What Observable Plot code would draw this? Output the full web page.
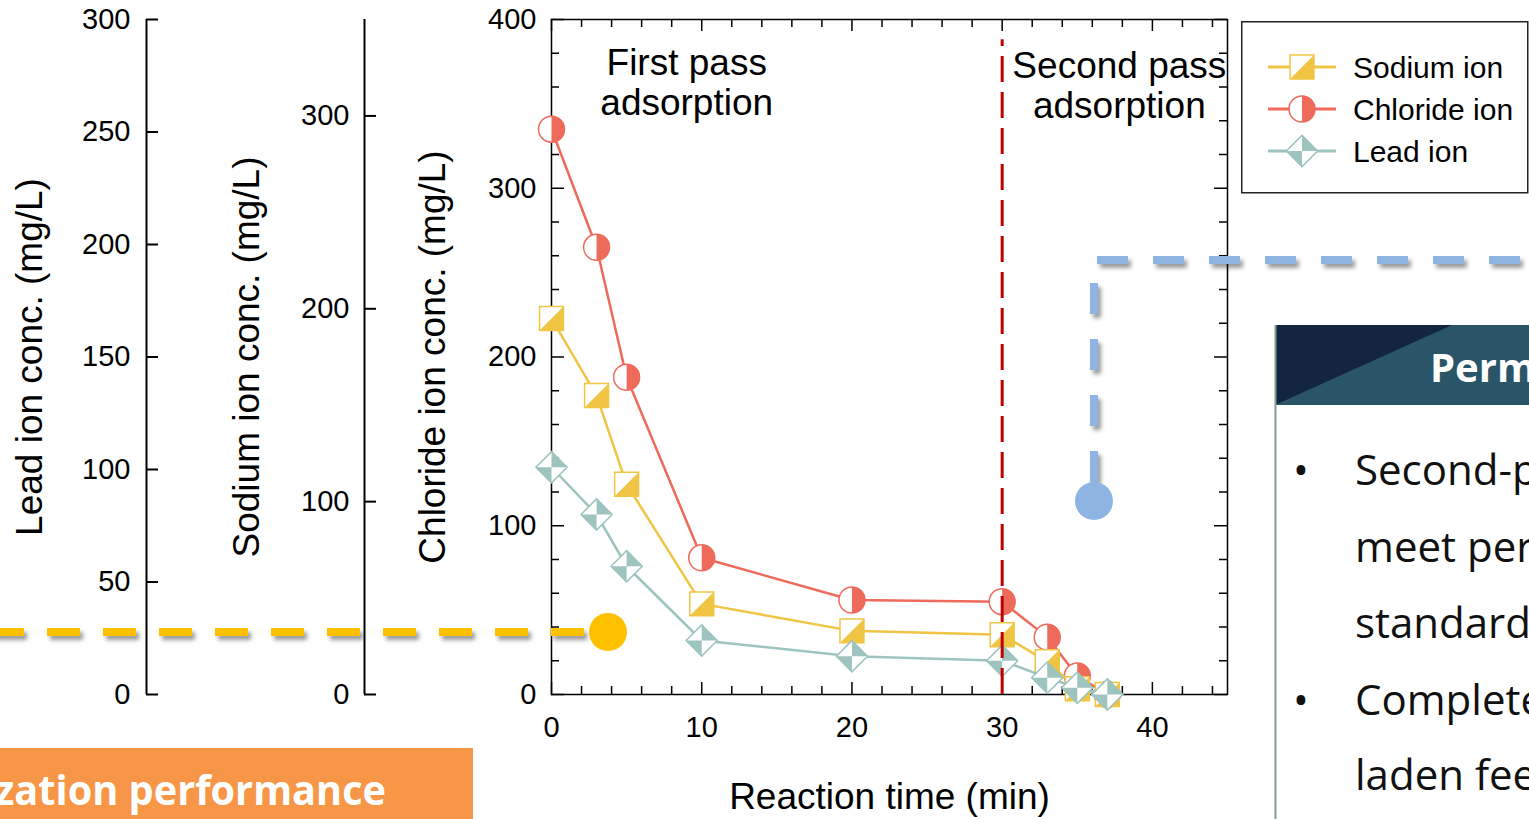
<!DOCTYPE html>
<html><head><meta charset="utf-8">
<script src="https://cdn.jsdelivr.net/npm/d3@7"></script>
<script src="https://cdn.jsdelivr.net/npm/@observablehq/plot@0.6"></script>
<style>
html,body{margin:0;padding:0;background:#fff;overflow:hidden}
#wrap{position:relative;width:1529px;height:819px;overflow:hidden;background:#fff}
#wrap svg{position:absolute;left:0;top:0}
</style></head><body><div id="wrap"></div>
<script>
// ---- data ----
const time = [0, 3, 5, 10, 20, 30, 33, 35, 37];
const chloride = [335, 265, 188, 81, 56, 55, 34, 11, 0];
const sodium = [195, 155, 109, 47, 33, 31, 17, 3, 0];
const lead = [101, 80, 57, 24, 17, 15, 7.5, 3, 0];
const chlorideTicks = [0, 100, 200, 300, 400];
const sodiumTicks = [0, 100, 200, 300];
const leadTicks = [0, 50, 100, 150, 200, 250, 300];
const timeTicks = [0, 10, 20, 30, 40];
const chlorideMax = 400, sodiumMax = 350, leadMax = 300, timeMax = 45;
const passBoundary = [30];
const annotations = [
  {x: 9, y: 363, text: "First pass\nadsorption"},
  {x: 37.8, y: 361, text: "Second pass\nadsorption"}
];
const legendOrder = ["Sodium ion", "Chloride ion", "Lead ion"];
const colors = {"Sodium ion": "#F0C544", "Chloride ion": "#EE6A5B", "Lead ion": "#9DC4BE"};

// ---- symbols ----
const shapes = {
  "Sodium ion": {
    outline: (c, r) => { const a = r * 0.92; c.rect(-a, -a, 2 * a, 2 * a); },
    half: (c, r) => { const a = r * 0.92; c.moveTo(-a, a); c.lineTo(a, -a); c.lineTo(a, a); c.closePath(); }
  },
  "Chloride ion": {
    outline: (c, r) => { c.moveTo(r, 0); c.arc(0, 0, r, 0, 2 * Math.PI); },
    half: (c, r) => { c.moveTo(0, -r); c.arc(0, 0, r, -Math.PI / 2, Math.PI / 2); c.closePath(); }
  },
  "Lead ion": {
    outline: (c, r) => { const d = r * 1.2; c.moveTo(0, -d); c.lineTo(d, 0); c.lineTo(0, d); c.lineTo(-d, 0); c.closePath(); },
    half: (c, r) => { const d = r * 1.2; c.moveTo(0, -d); c.lineTo(d, 0); c.lineTo(0, 0); c.closePath(); c.moveTo(0, d); c.lineTo(-d, 0); c.lineTo(0, 0); c.closePath(); }
  }
};
const sym = f => ({draw(context, size) { f(context, Math.sqrt(size / Math.PI)); }});

// ---- rows (secondary series re-expressed on the chloride axis) ----
const seriesDefs = [
  {name: "Chloride ion", values: chloride, max: chlorideMax},
  {name: "Sodium ion", values: sodium, max: sodiumMax},
  {name: "Lead ion", values: lead, max: leadMax}
];
const seriesMarks = seriesDefs.flatMap(s => {
  const rows = time.map((t, i) => ({time: t, value: s.values[i], y: s.values[i] * chlorideMax / s.max}));
  const col = colors[s.name];
  return [
    Plot.line(rows, {x: "time", y: "y", stroke: col, strokeWidth: 2.5}),
    Plot.dot(rows, {x: "time", y: "y", r: 13, symbol: sym(shapes[s.name].outline), fill: "white", stroke: col, strokeWidth: 1.5}),
    Plot.dot(rows, {x: "time", y: "y", r: 13, symbol: sym(shapes[s.name].half), fill: col})
  ];
});

const yMinor = d3.range(0, chlorideMax + 1, 20).filter(v => v % 100 !== 0);
const xMinor = d3.range(0, timeMax + 0.1, 2).filter(v => v % 10 !== 0);
const xMajorAll = [0, 10, 20, 30, 40];
const FW = 676, FH = 675;
const leadK = chlorideMax / leadMax, sodiumK = chlorideMax / sodiumMax;

const chart = Plot.plot({
  width: 1529, height: 819,
  marginLeft: 551, marginRight: 302, marginTop: 19, marginBottom: 125,
  x: {domain: [0, timeMax]},
  y: {domain: [0, chlorideMax]},
  style: {fontFamily: "'Liberation Sans', Arial, sans-serif", fontSize: "28px", color: "black", background: "transparent", overflow: "visible"},
  marks: [
    Plot.frame({stroke: "black", strokeWidth: 1.5}),
    // main inward ticks
    Plot.tickY(yMinor, {y: d => d, insetRight: FW - 8, stroke: "black", strokeWidth: 1.5}),
    Plot.tickY(chlorideTicks, {y: d => d, insetRight: FW - 13, stroke: "black", strokeWidth: 1.5}),
    Plot.tickY(yMinor, {y: d => d, insetLeft: FW - 8, stroke: "black", strokeWidth: 1.5}),
    Plot.tickY(chlorideTicks, {y: d => d, insetLeft: FW - 13, stroke: "black", strokeWidth: 1.5}),
    Plot.tickX(xMinor, {x: d => d, insetTop: FH - 8, stroke: "black", strokeWidth: 1.5}),
    Plot.tickX(xMajorAll, {x: d => d, insetTop: FH - 12, stroke: "black", strokeWidth: 1.5}),
    Plot.tickX(xMinor, {x: d => d, insetBottom: FH - 8, stroke: "black", strokeWidth: 1.5}),
    Plot.tickX(xMajorAll, {x: d => d, insetBottom: FH - 12, stroke: "black", strokeWidth: 1.5}),
    Plot.axisY(chlorideTicks, {anchor: "left", tickSize: 0, tickPadding: 15, label: null, fontSize: 29}),
    Plot.axisX(timeTicks, {anchor: "bottom", tickSize: 0, tickPadding: 22, label: null, fontSize: 29}),
    // sodium axis
    Plot.ruleX([0], {dx: -187, stroke: "black", strokeWidth: 2}),
    Plot.tickY(sodiumTicks, {y: d => d * sodiumK, dx: -187, insetRight: FW - 12, stroke: "black", strokeWidth: 2}),
    Plot.text(sodiumTicks, {y: d => d * sodiumK, text: d => String(d), frameAnchor: "left", dx: -202, textAnchor: "end", fontSize: 29}),
    // lead axis
    Plot.ruleX([0], {dx: -405, stroke: "black", strokeWidth: 2}),
    Plot.tickY(leadTicks, {y: d => d * leadK, dx: -405, insetRight: FW - 12, stroke: "black", strokeWidth: 2}),
    Plot.text(leadTicks, {y: d => d * leadK, text: d => String(d), frameAnchor: "left", dx: -421, textAnchor: "end", fontSize: 29}),
    // axis titles
    Plot.text(["Chloride ion conc. (mg/L)"], {frameAnchor: "left", dx: -118, rotate: -90, textAnchor: "middle", lineAnchor: "middle", fontSize: 37}),
    Plot.text(["Sodium ion conc. (mg/L)"], {frameAnchor: "left", dx: -304, rotate: -90, textAnchor: "middle", lineAnchor: "middle", fontSize: 37}),
    Plot.text(["Lead ion conc. (mg/L)"], {frameAnchor: "left", dx: -521, rotate: -90, textAnchor: "middle", lineAnchor: "middle", fontSize: 37}),
    Plot.text(["Reaction time (min)"], {frameAnchor: "bottom", dy: 103, lineAnchor: "middle", fontSize: 37}),
    // annotations
    Plot.text(annotations, {x: "x", y: "y", text: "text", fontSize: 37, lineHeight: 1.08}),
    ...seriesMarks,
    Plot.ruleX(passBoundary, {y1: 0, y2: 388, stroke: "#C00000", strokeWidth: 3, strokeDasharray: "26,10"})
  ]
});
document.getElementById("wrap").appendChild(chart);

// ---- overlay: legend and slide decorations ----
const ov = d3.select("#wrap").append("svg").attr("width", 1529).attr("height", 819).style("pointer-events", "none");
const defs = ov.append("defs");
const f = defs.append("filter").attr("id", "sh").attr("filterUnits", "userSpaceOnUse")
  .attr("x", 0).attr("y", 0).attr("width", 1529).attr("height", 819);
f.append("feDropShadow").attr("dx", 3).attr("dy", 4).attr("stdDeviation", 2)
  .attr("flood-color", "#000").attr("flood-opacity", 0.4);

// legend
const lg = ov.append("g").attr("transform", "translate(1241,21)");
lg.append("rect").attr("x", 0.75).attr("y", 0.75).attr("width", 286).attr("height", 171)
  .attr("fill", "white").attr("stroke", "#222").attr("stroke-width", 1.5);
legendOrder.forEach((name, i) => {
  const col = colors[name];
  const g = lg.append("g").attr("transform", `translate(61,${46 + 42 * i})`);
  g.append("line").attr("x1", -34).attr("x2", 34).attr("stroke", col).attr("stroke-width", 3);
  const p1 = d3.path(); shapes[name].outline(p1, 13);
  g.append("path").attr("d", p1.toString()).attr("fill", "white").attr("stroke", col).attr("stroke-width", 1.5);
  const p2 = d3.path(); shapes[name].half(p2, 13);
  g.append("path").attr("d", p2.toString()).attr("fill", col);
  g.append("text").attr("x", 51).attr("dy", "0.35em").attr("font-family", "'Liberation Sans', Arial, sans-serif")
    .attr("font-size", 30).text(name);
});

// orange guide
ov.append("line").attr("x1", -9).attr("x2", 590).attr("y1", 632).attr("y2", 632)
  .attr("stroke", "#FFC000").attr("stroke-width", 8).attr("stroke-dasharray", "33 23").attr("filter", "url(#sh)");
ov.append("circle").attr("cx", 608).attr("cy", 632).attr("r", 19).attr("fill", "#FFC000");
// blue guide
ov.append("line").attr("x1", 1097).attr("x2", 1529).attr("y1", 260).attr("y2", 260)
  .attr("stroke", "#8EB4E3").attr("stroke-width", 8).attr("stroke-dasharray", "31 25").attr("filter", "url(#sh)");
ov.append("line").attr("x1", 1094).attr("x2", 1094).attr("y1", 283).attr("y2", 482)
  .attr("stroke", "#8EB4E3").attr("stroke-width", 8).attr("stroke-dasharray", "31 25").attr("filter", "url(#sh)");
ov.append("circle").attr("cx", 1094).attr("cy", 501).attr("r", 19).attr("fill", "#8EB4E3");

// right panel
const pf = "'Open Sans', 'Noto Sans', sans-serif";
ov.append("rect").attr("x", 1275).attr("y", 325).attr("width", 254).attr("height", 80).attr("fill", "#2A5468");
ov.append("path").attr("d", "M1275,325H1452L1275,405Z").attr("fill", "#13253F");
ov.append("line").attr("x1", 1275.5).attr("x2", 1275.5).attr("y1", 325).attr("y2", 819).attr("stroke", "#7FA08F").attr("stroke-width", 2);
ov.append("text").attr("x", 1430).attr("y", 382).attr("fill", "white").attr("font-family", pf)
  .attr("font-weight", "bold").attr("font-size", 40).text("Perm");
const lines = ["Second-p", "meet per", "standards", "Complete", "laden fee"];
const bl = [485, 562, 638, 715, 790];
lines.forEach((t, i) => {
  ov.append("text").attr("x", 1355).attr("y", bl[i]).attr("font-family", pf).attr("font-size", 42).attr("fill", "#111").text(t);
});
[0, 3].forEach(i => {
  ov.append("text").attr("x", 1293).attr("y", bl[i]).attr("font-family", pf).attr("font-size", 42).attr("fill", "#111").text("•");
});

// bottom-left orange bar
ov.append("rect").attr("x", 0).attr("y", 748).attr("width", 473).attr("height", 71).attr("fill", "#F79646");
ov.append("text").attr("x", -5).attr("y", 805).attr("textLength", 391).attr("lengthAdjust", "spacingAndGlyphs").attr("fill", "white")
  .attr("font-family", pf).attr("font-weight", "bold").attr("font-size", 42).text("zation performance");
</script>
</body></html>
